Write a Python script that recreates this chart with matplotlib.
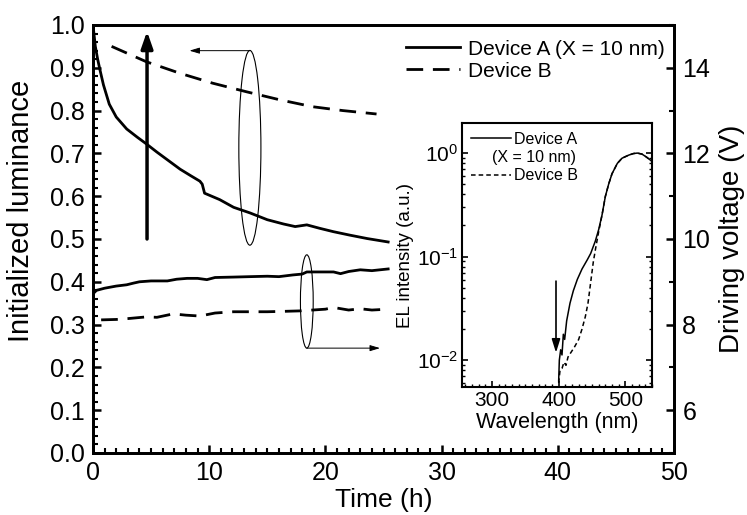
import matplotlib
matplotlib.use("Agg")
import matplotlib.pyplot as plt
from matplotlib.patches import Ellipse
from matplotlib.ticker import MultipleLocator, LogLocator, NullFormatter
import numpy as np

plt.rcParams['font.family'] = ['Liberation Sans', 'DejaVu Sans']
plt.rcParams['mathtext.fontset'] = 'custom'
plt.rcParams['mathtext.rm'] = 'Liberation Sans'
plt.rcParams['mathtext.it'] = 'Liberation Sans:italic'
plt.rcParams['mathtext.bf'] = 'Liberation Sans:bold'

# ---------------- data ----------------
# Luminance (left axis)
lumA_t = [0, 0.2, 0.4, 0.6, 0.9, 1.4, 2.0, 2.9, 3.8, 4.6, 5.5, 6.4, 7.5, 8.4, 9.2, 9.4,
          9.6, 10.9, 12.1, 13.5, 15.0, 16.4, 17.4, 18.4, 19.5, 20.7, 22.1, 23.6, 25.4]
lumA = [1.0, 0.95, 0.92, 0.895, 0.86, 0.815, 0.785, 0.757, 0.738, 0.722, 0.703, 0.685,
        0.663, 0.648, 0.635, 0.628, 0.607, 0.592, 0.574, 0.561, 0.545, 0.535, 0.529, 0.533,
        0.525, 0.517, 0.509, 0.501, 0.493]
lumB_t = [1.6, 4.6, 7.5, 10.3, 13.2, 16.1, 18.9, 21.5, 24.4]
lumB = [0.95, 0.914, 0.887, 0.864, 0.844, 0.825, 0.809, 0.800, 0.792]

# Driving voltage (right axis)
vA_t = [0, 0.3, 1.0, 2.0, 2.9, 3.5, 4.0, 5.0, 6.4, 7.2, 8.1, 9.0, 9.8, 10.5, 12.1, 13.5,
        15.0, 16.0, 17.2, 18.0, 18.4, 19.5, 20.7, 21.3, 22.0, 23.0, 24.0, 25.4]
vA = [8.72, 8.80, 8.85, 8.90, 8.93, 8.97, 9.00, 9.02, 9.02, 9.06, 9.08, 9.08, 9.05, 9.10,
      9.11, 9.12, 9.13, 9.12, 9.16, 9.18, 9.23, 9.23, 9.23, 9.19, 9.24, 9.28, 9.26, 9.30]
vB_t = [0.7, 2.0, 3.0, 4.6, 5.5, 6.9, 8.0, 9.2, 10.5, 12.1, 13.5, 15.0, 16.5, 17.8, 18.9,
        20.0, 20.7, 22.0, 23.0, 24.0, 25.4]
vB = [8.11, 8.12, 8.14, 8.18, 8.17, 8.25, 8.22, 8.20, 8.27, 8.30, 8.30, 8.30, 8.31, 8.32,
      8.34, 8.36, 8.40, 8.34, 8.37, 8.34, 8.36]

# Inset EL spectra (wavelength nm, intensity a.u.)
elA_nm = [400, 401, 403, 405, 407, 409, 412, 417, 422, 428, 435, 443, 448, 455, 460, 465,
          470, 475, 480, 488, 495, 505, 512, 518, 525, 532, 540]
elA_log = [-2.2, -2.0, -1.9, -1.95, -1.75, -1.8, -1.62, -1.45, -1.33, -1.22, -1.12, -1.03,
           -0.97, -0.85, -0.74, -0.6, -0.42, -0.3, -0.2, -0.1, -0.05, -0.02, -0.005, 0.0,
           -0.01, -0.04, -0.08]
elB_nm = [400, 402, 405, 408, 411, 414, 418, 424, 430, 435, 440, 444, 448, 452, 456, 460,
          465, 470, 475, 480, 488, 495, 505, 512, 518, 525, 532, 540]
elB_log = [-2.22, -2.1, -2.08, -2.02, -2.05, -1.97, -1.93, -1.87, -1.8, -1.7, -1.58, -1.45,
           -1.25, -1.05, -0.9, -0.76, -0.6, -0.42, -0.3, -0.2, -0.1, -0.05, -0.02, -0.005,
           0.0, -0.01, -0.04, -0.08]
elA = [10 ** v for v in elA_log]
elB = [10 ** v for v in elB_log]

# ---------------- figure ----------------
fig = plt.figure(figsize=(7.47, 5.15), dpi=100)
ax = fig.add_axes([0.1245, 0.1204, 0.7778, 0.8311])
ax2 = ax.twinx()

lw = 2.0
dash = (0, (6, 3.5))
hA, = ax.plot(lumA_t, lumA, color='k', lw=lw, label='Device A (X = 10 nm)')
hB, = ax.plot(lumB_t, lumB, color='k', lw=lw, ls=dash, label='Device B')
ax2.plot(vA_t, vA, color='k', lw=lw)
ax2.plot(vB_t, vB, color='k', lw=lw, ls=dash)

ax.set_xlim(0, 50)
ax.set_ylim(0, 1.0)
ax2.set_ylim(5, 15)

ax.xaxis.set_major_locator(MultipleLocator(10))
ax.xaxis.set_minor_locator(MultipleLocator(1))
ax.yaxis.set_major_locator(MultipleLocator(0.1))
ax.yaxis.set_minor_locator(MultipleLocator(0.02))
ax2.yaxis.set_major_locator(MultipleLocator(2))
ax2.yaxis.set_minor_locator(MultipleLocator(1))
ax.yaxis.set_major_formatter(matplotlib.ticker.FormatStrFormatter('%.1f'))

ax.tick_params(axis='both', which='major', direction='in', length=6, width=1.8,
               labelsize=18, top=False, right=False, pad=6)
ax.tick_params(axis='both', which='minor', direction='in', length=3.5, width=1.5,
               top=False, right=False)
ax2.tick_params(axis='y', which='major', direction='in', length=6, width=1.8,
                labelsize=18, pad=6)
ax2.tick_params(axis='y', which='minor', direction='in', length=3.5, width=1.5)
for a in (ax, ax2):
    for s in a.spines.values():
        s.set_linewidth(2.0)

ax.set_xlabel('Time (h)', fontsize=19, labelpad=2)
ax.set_ylabel('Initialized luminance', fontsize=21, labelpad=5)
ax.yaxis.set_label_coords(-0.100, 0.565)
ax2.set_ylabel('Driving voltage (V)', fontsize=20, labelpad=6)

ax.legend(handles=[hA, hB], loc='upper right', bbox_to_anchor=(1.005, 0.995),
          frameon=False, fontsize=15, handlelength=2.6, handletextpad=0.35,
          labelspacing=0.15, borderaxespad=0.2)

# annotations
ax.annotate('', xy=(4.65, 0.985), xytext=(4.65, 0.50),
            arrowprops=dict(arrowstyle='-|>,head_width=0.35,head_length=1.0',
                            color='k', lw=2.5, shrinkA=0, shrinkB=0))
ax.add_patch(Ellipse((13.5, 0.713), 1.9, 0.455, fill=False, ec='k', lw=0.8))
ax.annotate('', xy=(8.3, 0.94), xytext=(13.5, 0.94),
            arrowprops=dict(arrowstyle='-|>,head_width=0.18,head_length=0.6',
                            color='k', lw=0.7, shrinkA=0, shrinkB=0))
ax.add_patch(Ellipse((18.4, 0.354), 1.1, 0.218, fill=False, ec='k', lw=0.8))
ax.annotate('', xy=(24.7, 0.245), xytext=(18.4, 0.245),
            arrowprops=dict(arrowstyle='-|>,head_width=0.18,head_length=0.6',
                            color='k', lw=0.7, shrinkA=0, shrinkB=0))

# ---------------- inset ----------------
axi = fig.add_axes([0.6185, 0.2485, 0.2543, 0.5126])
iA, = axi.plot(elA_nm, elA, color='k', lw=1.1, label='Device A')
iB, = axi.plot(elB_nm, elB, color='k', lw=1.1, ls=(0, (3, 2)), label='Device B')
axi.set_yscale('log')
axi.set_xlim(255, 540)
axi.set_ylim(0.0055, 1.95)
axi.xaxis.set_major_locator(MultipleLocator(100))
axi.xaxis.set_minor_locator(MultipleLocator(10))
axi.yaxis.set_major_locator(LogLocator(base=10, numticks=10))
axi.yaxis.set_minor_locator(LogLocator(base=10, subs=np.arange(2, 10), numticks=10))
axi.yaxis.set_minor_formatter(NullFormatter())
axi.tick_params(axis='both', which='major', direction='in', length=4, width=1.2,
                labelsize=15, top=False, right=True, pad=3)
axi.tick_params(axis='both', which='minor', direction='in', length=2.5, width=1.0,
                top=False, right=True)
for s in axi.spines.values():
    s.set_linewidth(1.5)
axi.set_xlabel('Wavelength (nm)', fontsize=15.5, labelpad=1)
axi.set_ylabel('EL intensity (a.u.)', fontsize=13.5, labelpad=2)

axi.annotate('', xy=(396, 0.0118), xytext=(396, 0.058),
             arrowprops=dict(arrowstyle='-|>,head_width=0.25,head_length=0.8',
                             color='k', lw=1.2, shrinkA=0, shrinkB=0))

axi.legend(handles=[iA, iB], loc='upper left', bbox_to_anchor=(0.0, 1.0),
           frameon=False, fontsize=11.5, handlelength=2.5, handletextpad=0.2,
           labelspacing=1.35, borderaxespad=0.15)
axi.text(0.158, 0.868, '(X = 10 nm)', transform=axi.transAxes, fontsize=11.5,
         ha='left', va='center')

fig.savefig('out.png', dpi=100)
